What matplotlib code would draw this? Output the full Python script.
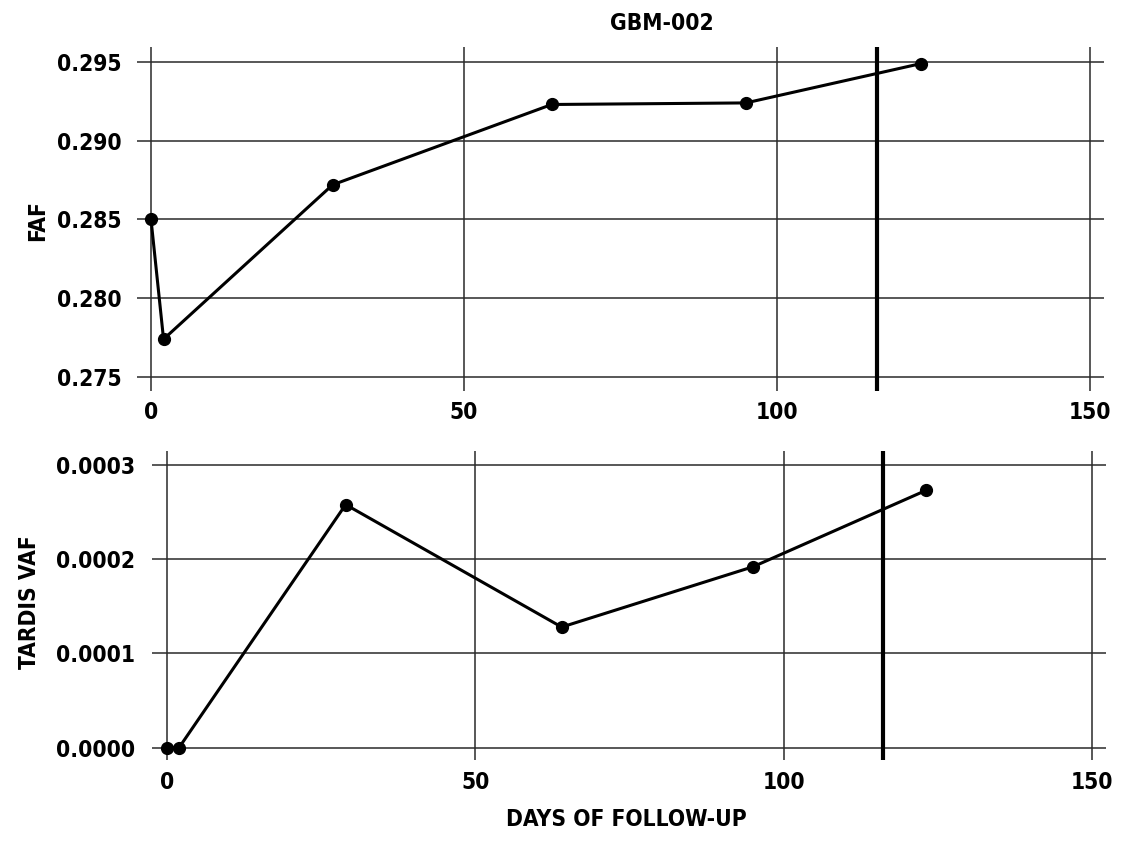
import matplotlib
matplotlib.use("Agg")
import matplotlib.pyplot as plt
from matplotlib import font_manager

# ---- data ----
days = [0, 2, 29, 64, 95, 123]
faf = [0.2850, 0.2774, 0.2872, 0.2923, 0.2924, 0.2949]
tardis_days = [0, 2, 29, 64, 95, 123]
tardis_vaf = [0.0, 0.0, 0.000258, 0.000128, 0.000192, 0.000273]
event_day = 116
x_ticks = [0, 50, 100, 150]
faf_ticks = [0.275, 0.280, 0.285, 0.290, 0.295]
faf_labels = ["0.275", "0.280", "0.285", "0.290", "0.295"]
vaf_ticks = [0.0, 0.0001, 0.0002, 0.0003]
vaf_labels = ["0.0000", "0.0001", "0.0002", "0.0003"]
title = "GBM-002"
xlabel = "DAYS OF FOLLOW-UP"

# pick the narrowest available family
ents = font_manager.fontManager.ttflist
cands = [f.name for f in ents if ("Condensed" in f.name or "Narrow" in f.name
                                   or f.stretch in ("condensed", "semi-condensed", "extra-condensed"))]
pref = cands[0] if cands else "Liberation Sans"
plt.rcParams['font.family'] = [pref, 'DejaVu Sans']
stretch = "condensed" if cands else "normal"

W, H = 1128, 842
fig = plt.figure(figsize=(W / 100, H / 100), dpi=100)

# size text so "0.0003" is about 78 px wide, as in the reference
r = fig.canvas.get_renderer()
t = fig.text(0, 0, "0.0003", fontsize=20, fontweight="bold", fontstretch=stretch)
w20 = t.get_window_extent(renderer=r).width
t.remove()
TS = 20 * 79.0 / w20

def px_axes(x0, y0, x1, y1):
    return fig.add_axes([x0 / W, 1 - y1 / H, (x1 - x0) / W, (y1 - y0) / H])

def style(ax):
    for s in ax.spines.values():
        s.set_visible(False)
    ax.grid(True, color="#2a2a2a", linewidth=1.1)
    ax.set_axisbelow(True)
    ax.tick_params(length=0, labelsize=TS)
    for lab in ax.get_xticklabels() + ax.get_yticklabels():
        lab.set_fontweight('bold')
        lab.set_fontstretch(stretch)

# top panel
ax1 = px_axes(137, 47, 1104, 391)
ax1.plot(days, faf, color="black", lw=2.2, marker="o", ms=8.5, zorder=3)
ax1.axvline(event_day, color="black", lw=3, zorder=2)
ax1.set_xlim(-2.24, 152.2)
ax1.set_ylim(0.27411, 0.29595)
ax1.set_xticks(x_ticks)
ax1.set_xticklabels([str(t) for t in x_ticks])
ax1.set_yticks(faf_ticks)
ax1.set_yticklabels(faf_labels)
style(ax1)
ax1.tick_params(axis='y', pad=11)
ax1.tick_params(axis='x', pad=7)

# bottom panel
ax2 = px_axes(152, 451, 1106, 760)
ax2.plot(tardis_days, tardis_vaf, color="black", lw=2.2, marker="o", ms=8.5, zorder=3)
ax2.axvline(event_day, color="black", lw=3, zorder=2)
ax2.set_xlim(-2.38, 152.2)
ax2.set_ylim(-0.0000131, 0.0003149)
ax2.set_xticks(x_ticks)
ax2.set_xticklabels([str(t) for t in x_ticks])
ax2.set_yticks(vaf_ticks)
ax2.set_yticklabels(vaf_labels)
style(ax2)
ax2.tick_params(axis='y', pad=12)
ax2.tick_params(axis='x', pad=8)

kw = dict(fontsize=TS, fontweight="bold", fontstretch=stretch)
fig.text(662 / W, 1 - 24 / H, title, ha="center", va="center", **kw)
fig.text(38 / W, 1 - 221 / H, "FAF", ha="center", va="center", rotation=90, **kw)
fig.text(30 / W, 1 - 602 / H, "TARDIS VAF", ha="center", va="center", rotation=90, **kw)
fig.text(626 / W, 1 - 820 / H, xlabel, ha="center", va="center", **kw)

fig.savefig("out.png", dpi=100)
